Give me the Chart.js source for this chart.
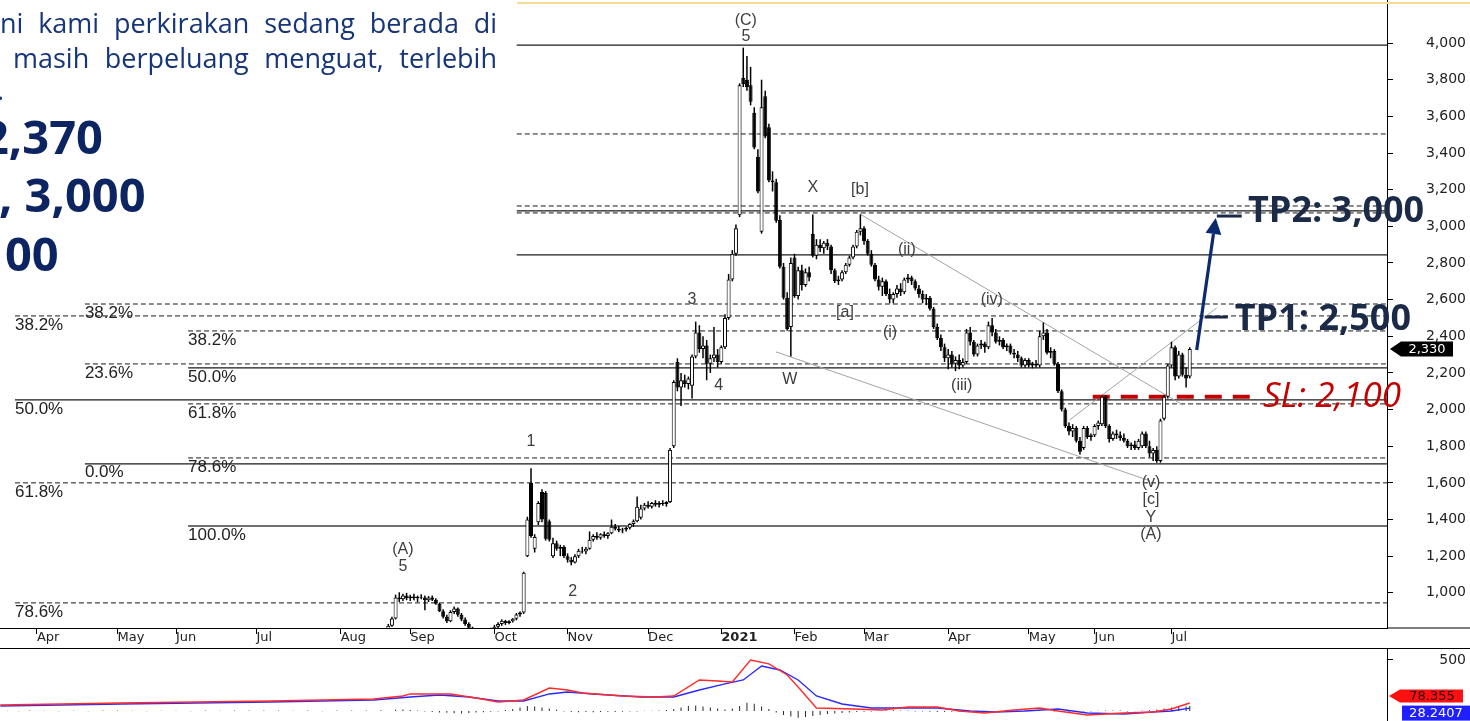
<!DOCTYPE html>
<html><head><meta charset="utf-8">
<script src="https://cdn.jsdelivr.net/npm/chart.js@4.4.1/dist/chart.umd.min.js"></script>
<style>
html,body{margin:0;padding:0;background:#fff;}
body{width:1470px;height:721px;overflow:hidden;position:relative;}
canvas{position:absolute;left:0;}
#main{top:0;} #macd{top:648px;}
.t{position:absolute;font-family:"Open Sans",sans-serif;font-size:27px;line-height:35px;color:#17367a;text-align:justify;text-align-last:justify;}
.b{position:absolute;font-family:"Open Sans",sans-serif;font-weight:700;font-size:47px;line-height:47px;color:#0c2461;white-space:nowrap;}
.topline{position:absolute;left:517px;top:2px;width:953px;height:2px;background:#f8dc94;}
</style></head>
<body>
<canvas id="main" width="1470" height="648"></canvas>
<canvas id="macd" width="1470" height="73"></canvas>
<div class="topline"></div>
<div class="t" style="top:5px;left:0;width:497px">ni kami perkirakan sedang berada di</div>
<div class="t" style="top:40px;left:13px;width:484px">masih berpeluang menguat, terlebih</div>
<div class="t" style="top:72px;left:-3px;text-align:left;text-align-last:left">.</div>
<div class="b" style="top:113px;left:-18px">2,370</div>
<div class="b" style="top:171px;left:-1px">, 3,000</div>
<div class="b" style="top:230px;left:5px">00</div>
<script>
// ---------- DATA ----------
const X_MIN = -10.1, X_MAX = 368.9;          // trading-day index range of the view
const Y_MIN = 808, Y_MAX = 4235;              // price range of the view
const M_MIN = -98, M_MAX = 617;               // MACD range of the view
const monthTicks  = [0,22,38,60,83,102,125,145,167,187,207,226,249,271,289,310];
const monthLabels = ['Apr','May','Jun','Jul','Aug','Sep','Oct','Nov','Dec','2021','Feb','Mar','Apr','May','Jun','Jul'];
const priceTicks  = [1000,1200,1400,1600,1800,2000,2200,2400,2600,2800,3000,3200,3400,3600,3800,4000];
const macdTicks   = [500];

const FIRST_DAY = 94;   // day index of the first candle
// candles: [open, high, low, close]
const candles = [
[760,780,745,770],[770,800,760,790],[790,830,785,820],[820,870,815,860],[860,990,855,975],
[975,1003,950,965],[965,995,955,985],[985,1000,960,970],[970,990,955,980],[980,995,960,970],
[970,985,950,978],[978,992,965,975],[975,985,905,960],[960,982,950,975],[975,985,955,962],
[962,970,935,940],[940,945,895,900],[900,910,860,870],[870,880,835,845],[845,905,840,895],
[895,925,885,915],[915,920,870,880],[880,890,845,855],[855,865,820,830],[830,840,800,810],
[810,815,785,795],[795,805,770,780],[780,790,760,770],[770,785,755,775],[775,795,765,790],
[790,810,780,800],[800,825,795,815],[815,840,805,830],[830,855,820,848],[848,852,825,835],
[835,850,828,845],[845,862,838,858],[858,890,850,882],[882,898,870,892],[892,1115,885,1110],
[1200,1415,1195,1400],[1600,1680,1300,1310],[1240,1320,1220,1305],[1385,1500,1370,1490],[1550,1565,1385,1400],
[1545,1555,1285,1295],[1390,1400,1280,1290],[1200,1300,1190,1270],[1270,1285,1230,1240],[1240,1262,1200,1250],
[1250,1260,1190,1200],[1200,1215,1165,1180],[1180,1195,1150,1165],[1165,1210,1160,1200],[1200,1240,1190,1230],
[1230,1250,1215,1225],[1225,1250,1210,1240],[1240,1335,1235,1290],[1290,1320,1280,1310],[1310,1330,1290,1300],
[1300,1325,1290,1320],[1320,1335,1300,1310],[1310,1330,1295,1325],[1325,1400,1320,1360],[1360,1375,1340,1350],
[1350,1365,1330,1340],[1340,1355,1325,1345],[1345,1360,1335,1355],[1355,1380,1345,1375],[1375,1400,1360,1390],
[1390,1525,1385,1470],[1410,1480,1400,1460],[1460,1490,1450,1480],[1480,1500,1460,1470],[1470,1495,1460,1490],
[1490,1505,1470,1480],[1480,1500,1465,1490],[1490,1505,1475,1485],[1485,1500,1470,1495],[1495,1790,1490,1780],
[1800,2160,1790,2150],[2260,2280,2100,2120],[2120,2200,2020,2160],[2160,2190,2120,2140],[2140,2180,2110,2170],
[2130,2300,2060,2290],[2290,2480,2280,2420],[2420,2460,2310,2330],[2330,2400,2280,2350],[2350,2380,2160,2250],
[2250,2300,2200,2280],[2280,2450,2260,2300],[2300,2330,2230,2260],[2260,2350,2250,2340],[2340,2520,2330,2500],
[2500,2740,2490,2710],[2710,2870,2700,2850],[2850,3010,2840,2990],[3060,3780,3050,3770],[3810,3975,3760,3775],
[3800,3930,3740,3760],[3770,3870,3660,3680],[3620,3650,3420,3430],[3380,3420,3180,3190],[2970,3800,2960,3650],
[3710,3740,3480,3490],[3540,3560,3240,3250],[3250,3300,3190,3240],[3240,3260,3020,3030],[3035,3060,2770,2780],
[2780,2800,2600,2610],[2610,2640,2430,2440],[2450,2830,2290,2800],[2830,2850,2610,2620],[2620,2780,2600,2760],
[2760,2790,2650,2680],[2680,2770,2670,2750],[2750,2780,2700,2720],[2960,3065,2830,2840],[2840,2930,2820,2900],
[2900,2930,2860,2880],[2880,2920,2850,2910],[2910,2930,2870,2890],[2890,2900,2740,2760],[2760,2770,2690,2700],
[2700,2730,2680,2710],[2710,2760,2700,2750],[2750,2800,2740,2790],[2790,2840,2780,2830],[2830,2900,2820,2890],
[2890,2980,2880,2970],[2970,3065,2950,2990],[2990,3000,2900,2920],[2920,2930,2840,2850],[2850,2870,2780,2790],
[2790,2800,2700,2710],[2710,2730,2650,2670],[2670,2720,2620,2700],[2700,2710,2620,2630],[2630,2660,2580,2600],
[2600,2640,2580,2630],[2630,2680,2610,2660],[2660,2690,2620,2640],[2640,2720,2630,2710],[2710,2740,2690,2720],
[2720,2730,2680,2700],[2700,2710,2650,2660],[2660,2680,2610,2630],[2630,2650,2580,2600],[2600,2630,2570,2610],
[2610,2620,2540,2550],[2550,2560,2440,2450],[2450,2470,2380,2390],[2390,2410,2320,2340],[2340,2360,2260,2280],
[2280,2330,2220,2300],[2300,2320,2230,2250],[2250,2290,2210,2270],[2270,2300,2220,2240],[2240,2280,2230,2260],
[2260,2440,2250,2420],[2420,2450,2350,2370],[2370,2380,2290,2300],[2300,2360,2290,2350],[2350,2380,2330,2360],
[2360,2370,2310,2340],[2340,2480,2330,2460],[2460,2500,2400,2420],[2420,2440,2360,2370],[2370,2400,2350,2380],
[2380,2390,2330,2340],[2340,2360,2320,2350],[2350,2360,2300,2310],[2310,2330,2280,2300],[2300,2320,2260,2280],
[2280,2290,2230,2240],[2240,2280,2230,2270],[2270,2280,2230,2240],[2240,2260,2225,2250],[2250,2270,2230,2240],
[2240,2430,2230,2400],[2400,2475,2380,2420],[2420,2440,2300,2310],[2310,2340,2280,2320],[2320,2330,2240,2250],
[2250,2260,2090,2100],[2100,2110,1990,2000],[2000,2010,1900,1910],[1910,1930,1860,1880],[1880,1920,1850,1900],
[1900,1910,1820,1830],[1830,1850,1755,1770],[1790,1910,1780,1900],[1900,1910,1840,1850],[1850,1870,1830,1860],
[1860,1920,1850,1910],[1910,1940,1890,1930],[1920,2075,1910,2070],[2070,2080,1900,1910],[1910,1920,1820,1840],
[1840,1880,1830,1870],[1870,1890,1840,1860],[1860,1880,1830,1845],[1845,1870,1820,1830],[1830,1840,1790,1800],
[1800,1820,1780,1810],[1810,1830,1780,1790],[1790,1840,1780,1830],[1800,1880,1790,1870],[1870,1880,1790,1800],
[1800,1830,1740,1760],[1760,1790,1720,1780],[1780,1800,1710,1720],[1720,1950,1710,1940],[1950,2080,1940,2070],
[2070,2250,2060,2240],[2240,2370,2230,2340],[2340,2350,2160,2180],[2180,2320,2170,2300],[2300,2310,2180,2190],
[2190,2230,2120,2170],[2180,2340,2170,2330]
];

// Fibonacci / horizontal levels
const fibLevels = [3989,3504,3111,3084,3073,2844,2576,2511,2429,2249,2227,2053,2031,1736,1704,1600,1365,945];
const fibStart  = [131.1,131.1,131.1,131.1,131.1,131.1,13.1,-6.0,41.3,13.1,41.3,-6.0,41.3,41.3,13.1,-6.0,41.3,-6.0];
const fibLabels = ['','','','','','','38.2%','38.2%','38.2%','23.6%','50.0%','50.0%','61.8%','78.6%','0.0%','61.8%','100.0%','78.6%'];
const fibStyle  = ['s','d','d','s','d','s','d','d','d','d','s','s','d','d','s','d','g','d'];

// trend lines (start day, start price, end day, end price)
const trendX1 = [224.9, 201.9, 282.2];
const trendY1 = [3067, 2315, 1944];
const trendX2 = [313.1, 304.1, 322.4];
const trendY2 = [2025, 1611, 2555];

// wave labels
const waveText = ['(A)','5','1','2','3','4','(C)','5','X','[b]','W','[a]','(i)','(ii)','(iii)','(iv)','(v)','[c]','Y','(A)'];
const waveX    = [100.0,100.0,135.0,146.4,179.0,186.3,193.7,193.7,212.0,224.9,205.7,220.8,233.1,237.7,252.7,260.9,304.4,304.4,304.4,304.4];
const waveY    = [1235,1142,1824,1005,2598,2129,4125,4033,3209,3198,2162,2527,2418,2871,2129,2598,1600,1507,1409,1316];

// targets / stop loss
const targetText     = ['TP2: 3,000','TP1: 2,500'];
const targetTextX    = [330.9, 327.3];
const targetTextBase = [3024, 2435];
const targetTickFrom = [322.4, 319.1];
const targetTickTo   = [329.2, 325.4];
const targetTickVal  = [3056, 2505];
const slText = 'SL: 2,100', slTextX = 335.0, slTextBase = 2015;
const slLevel = 2070, slFrom = 288.5, slTo = 331.4;
const arrowFrom = [316.9, 2325], arrowTo = [322.1, 3045];

// MACD (day, value)
const macdLine = [[-10,59],[23,78],[64,98],[92,118],[100,147],[102,167],[113,167],[120,127],[126,88],[133,108],
[140,225],[145,206],[149,176],[160,147],[169,137],[174,147],[181,304],[186,294],[190,284],[195,500],[200,461],
[205,353],[208,235],[213,29],[223,20],[231,10],[238,39],[246,39],[252,0],[259,-20],[267,10],[274,29],[279,0],
[287,-39],[297,-20],[305,-10],[310,20],[315,78.355]];
const signalLine = [[-10,49],[23,69],[64,88],[92,108],[102,137],[110,157],[118,137],[126,98],[133,98],[140,167],
[145,186],[152,167],[165,137],[174,137],[181,206],[188,265],[193,304],[198,441],[203,402],[208,304],[213,147],
[220,69],[228,29],[238,29],[246,29],[255,0],[262,-10],[270,0],[279,20],[287,-20],[297,-29],[305,-10],[310,0],[315,28.2407]];
const histBars = [[-8,3],[-5,-3],[-2,4],[2,3],[6,-2],[10,3],[14,-3],[18,4],[22,5],[26,3],[30,-2],[34,3],[38,2],[42,-3],
[46,4],[50,3],[54,5],[58,6],[62,5],[66,4],[70,3],[74,5],[78,-3],[82,4],[86,5],[90,4],[94,8],[98,12],
[100,15],[102,10],[104,6],[106,-5],[108,-10],[110,-14],[112,-18],[114,-22],[116,-25],[118,-20],
[120,-15],[122,-12],[124,-8],[126,-5],[128,10],[130,20],[132,35],[134,50],[136,45],[138,35],
[140,25],[142,12],[144,-5],[146,-10],[148,-12],[150,-10],[152,-12],[154,-10],[156,-8],[158,-10],
[160,-8],[162,-6],[164,-4],[166,3],[168,2],[170,4],[172,10],[174,20],[176,35],[178,50],
[180,55],[182,45],[184,35],[186,25],[188,15],[190,25],[192,50],[194,80],[196,70],[198,45],
[200,20],[202,-15],[204,-40],[206,-55],[208,-65],[210,-60],[212,-50],[214,-40],[216,-30],[218,-25],
[220,-20],[222,-15],[224,-10],[226,-8],[228,-5],[230,5],[232,8],[234,10],[236,6],[238,4],
[240,-4],[242,-6],[244,-8],[246,-10],[248,-10],[250,-8],[252,-6],[254,-5],[256,-8],[258,-10],
[260,-6],[262,-5],[264,-4],[266,4],[268,6],[270,5],[272,4],[274,5],[276,3],[278,-5],
[280,-8],[282,-10],[284,-8],[286,-6],[288,-5],[290,3],[292,5],[294,6],[296,4],[298,-4],
[300,-3],[302,5],[304,8],[306,15],[308,25],[310,35],[312,40],[314,45],[315,48]];

// ---------- CHART ----------
const lastClose = candles[candles.length-1][3];
const fmt = v => v.toLocaleString('en-US');

const fibDatasets = fibLevels.map((lv,k)=>({
  type:'line', data:[{x:fibStart[k],y:lv},{x:X_MAX,y:lv}],
  borderColor: fibStyle[k]==='g' ? '#6e6e6e' : '#1a1a1a',
  borderWidth: fibStyle[k]==='g' ? 2 : (fibStyle[k]==='s' ? 1.3 : 1),
  borderDash: fibStyle[k]==='d' ? [5,3] : [],
  pointRadius:0, order:10
}));
const trendDatasets = trendX1.map((x1,k)=>({
  type:'line', data:[{x:x1,y:trendY1[k]},{x:trendX2[k],y:trendY2[k]}],
  borderColor:'#a3a3a3', borderWidth:1, pointRadius:0, order:9
}));
const slDataset = {type:'line', data:[{x:slFrom,y:slLevel},{x:slTo,y:slLevel}],
  borderColor:'#c40000', borderWidth:4, borderDash:[17,11], pointRadius:0, order:3};
const wickDataset = {type:'bar', data:candles.map((c,k)=>({x:FIRST_DAY+k,y:[c[2],c[1]]})),
  backgroundColor:'#000', borderWidth:0, barThickness:1.5, grouped:false, order:2, clip:0, inflateAmount:0};
const bodyDataset = {type:'bar', data:candles.map((c,k)=>({x:FIRST_DAY+k,y:[c[0],c[3]]})),
  backgroundColor:(ctx)=>{const r=candles[ctx.dataIndex]; return r && r[3]>=r[0] ? '#ffffff' : '#000000';},
  borderColor:'#000', borderWidth:1, borderSkipped:false, barThickness:4, grouped:false, order:1, clip:0, inflateAmount:0};

const mainDecor = {
  id:'mainDecor',
  afterDatasetsDraw(chart){
    const {ctx, scales:{x,y}} = chart;
    ctx.save();
    ctx.font = '17px "Liberation Sans"'; ctx.fillStyle = '#222'; ctx.textAlign='left'; ctx.textBaseline='middle';
    fibLevels.forEach((lv,k)=>{ if(fibLabels[k]) ctx.fillText(fibLabels[k], x.getPixelForValue(fibStart[k]), y.getPixelForValue(lv)+9); });
    ctx.font = '16px "Liberation Sans"'; ctx.fillStyle = '#3e3e3e'; ctx.textAlign='center';
    waveText.forEach((t,k)=>ctx.fillText(t, x.getPixelForValue(waveX[k]), y.getPixelForValue(waveY[k])));
    ctx.restore();
  },
  afterDraw(chart){
    const {ctx, chartArea, scales:{x,y}} = chart;
    ctx.save();
    ctx.fillStyle='#000';
    ctx.fillRect(chartArea.right, Math.round(chartArea.bottom)-0.5, chart.width-chartArea.right, 1);
    ctx.strokeStyle='#1a2a47'; ctx.lineWidth=3;
    targetText.forEach((t,k)=>{
      const yy=y.getPixelForValue(targetTickVal[k]);
      ctx.beginPath(); ctx.moveTo(x.getPixelForValue(targetTickFrom[k]),yy); ctx.lineTo(x.getPixelForValue(targetTickTo[k]),yy); ctx.stroke();
    });
    ctx.fillStyle='#1a2a47'; ctx.font='700 36px "Open Sans"'; ctx.textAlign='left'; ctx.textBaseline='alphabetic';
    targetText.forEach((t,k)=>ctx.fillText(t, x.getPixelForValue(targetTextX[k]), y.getPixelForValue(targetTextBase[k])));
    ctx.fillStyle='#c40000'; ctx.font='italic 400 35px "Open Sans"';
    ctx.fillText(slText, x.getPixelForValue(slTextX), y.getPixelForValue(slTextBase));
    const x0=x.getPixelForValue(arrowFrom[0]), y0=y.getPixelForValue(arrowFrom[1]);
    const x1=x.getPixelForValue(arrowTo[0]), y1=y.getPixelForValue(arrowTo[1]);
    const ang=Math.atan2(y1-y0,x1-x0), L=16, W=8;
    const bx=x1-L*Math.cos(ang), by=y1-L*Math.sin(ang);
    ctx.strokeStyle='#0c2a70'; ctx.lineWidth=3.2;
    ctx.beginPath(); ctx.moveTo(x0,y0); ctx.lineTo(bx,by); ctx.stroke();
    ctx.fillStyle='#0c2a70'; ctx.beginPath(); ctx.moveTo(x1,y1);
    ctx.lineTo(bx+W*Math.sin(ang), by-W*Math.cos(ang)); ctx.lineTo(bx-W*Math.sin(ang), by+W*Math.cos(ang)); ctx.closePath(); ctx.fill();
    const ty=y.getPixelForValue(lastClose), xr=chartArea.right;
    ctx.fillStyle='#000'; ctx.beginPath();
    ctx.moveTo(xr+3,ty); ctx.lineTo(xr+14,ty-7.5); ctx.lineTo(xr+66,ty-7.5); ctx.lineTo(xr+66,ty+7.5); ctx.lineTo(xr+14,ty+7.5); ctx.closePath(); ctx.fill();
    ctx.fillStyle='#fff'; ctx.font='13px "DejaVu Sans"'; ctx.textAlign='center'; ctx.textBaseline='middle';
    ctx.fillText(fmt(lastClose), xr+40, ty+0.5);
    ctx.restore();
  }
};

new Chart(document.getElementById('main'), {
  type:'line',
  data:{datasets:[...fibDatasets, ...trendDatasets, slDataset, wickDataset, bodyDataset]},
  options:{
    responsive:false, animation:false, devicePixelRatio:1, events:[],
    layout:{padding:{left:0,right:4,top:0,bottom:0}},
    plugins:{legend:{display:false}, tooltip:{enabled:false}},
    scales:{
      x:{type:'linear', min:X_MIN, max:X_MAX, offset:false, position:'bottom',
        afterBuildTicks:s=>{s.ticks=monthTicks.map(v=>({value:v}));},
        afterFit:s=>{s.height=20; s.paddingLeft=0; s.paddingRight=0;},
        ticks:{autoSkip:false, maxRotation:0, minRotation:0, align:'start', padding:-4, color:'#222',
          font:(c)=>({family:'"DejaVu Sans"', size:13, weight:(c.tick && c.tick.label==='2021') ? 'bold':'normal'}),
          callback:v=>monthLabels[monthTicks.indexOf(v)]},
        grid:{display:true, drawOnChartArea:false, drawTicks:true, tickLength:6, color:'#000', offset:false},
        border:{display:true, color:'#000', width:1}},
      y:{type:'linear', position:'right', min:Y_MIN, max:Y_MAX,
        afterBuildTicks:s=>{s.ticks=priceTicks.map(v=>({value:v}));},
        afterFit:s=>{s.width=79; s.paddingTop=0; s.paddingBottom=0;},
        ticks:{crossAlign:'far', padding:0, color:'#222', font:{family:'"DejaVu Sans"', size:14}, callback:v=>fmt(v)},
        grid:{drawOnChartArea:false, drawTicks:true, tickLength:6, color:'#000'},
        border:{display:true, color:'#000', width:1}}
    }
  },
  plugins:[mainDecor]
});

const macdDecor = {
  id:'macdDecor',
  afterDraw(chart){
    const {ctx, chartArea, scales:{y}} = chart;
    ctx.save();
    ctx.fillStyle='#000'; ctx.fillRect(0,0,chart.width,1);
    const xr=chartArea.right;
    const mv=macdLine[macdLine.length-1][1], sv=signalLine[signalLine.length-1][1];
    const ry=y.getPixelForValue(mv)-7, by=y.getPixelForValue(sv)+5;
    ctx.fillStyle='#1f1fff'; ctx.fillRect(xr+15, by-7.5, chart.width-xr-15, 15);
    ctx.fillStyle='#ff1010'; ctx.beginPath();
    ctx.moveTo(xr+2,ry); ctx.lineTo(xr+13,ry-6.5); ctx.lineTo(xr+76,ry-6.5); ctx.lineTo(xr+76,ry+6.5); ctx.lineTo(xr+13,ry+6.5); ctx.closePath(); ctx.fill();
    ctx.font='13px "DejaVu Sans"'; ctx.textAlign='center'; ctx.textBaseline='middle';
    ctx.fillStyle='#2a0000'; ctx.fillText(String(mv), xr+45, ry+0.5);
    ctx.fillStyle='#fff'; ctx.fillText(String(sv), xr+49, by+0.5);
    ctx.restore();
  }
};

new Chart(document.getElementById('macd'), {
  type:'line',
  data:{datasets:[
    {type:'bar', data:histBars.map(p=>({x:p[0],y:p[1]})), backgroundColor:'#2a2a2a', borderWidth:0, barThickness:1, grouped:false, order:3, clip:0, inflateAmount:0},
    {type:'line', data:signalLine.map(p=>({x:p[0],y:p[1]})), borderColor:'#2a2aff', borderWidth:1.4, pointRadius:0, order:2},
    {type:'line', data:macdLine.map(p=>({x:p[0],y:p[1]})), borderColor:'#ff2a2a', borderWidth:1.4, pointRadius:0, order:1}
  ]},
  options:{
    responsive:false, animation:false, devicePixelRatio:1, events:[],
    layout:{padding:{left:0,right:4,top:0,bottom:0}},
    plugins:{legend:{display:false}, tooltip:{enabled:false}},
    scales:{
      x:{type:'linear', min:X_MIN, max:X_MAX, offset:false, display:false},
      y:{type:'linear', position:'right', min:M_MIN, max:M_MAX,
        afterBuildTicks:s=>{s.ticks=macdTicks.map(v=>({value:v}));},
        afterFit:s=>{s.width=79; s.paddingTop=0; s.paddingBottom=0;},
        ticks:{crossAlign:'far', padding:0, color:'#222', font:{family:'"DejaVu Sans"', size:14}, callback:v=>fmt(v)},
        grid:{drawOnChartArea:false, drawTicks:true, tickLength:6, color:'#000'},
        border:{display:true, color:'#000', width:1}}
    }
  },
  plugins:[macdDecor]
});
</script>
</body></html>
